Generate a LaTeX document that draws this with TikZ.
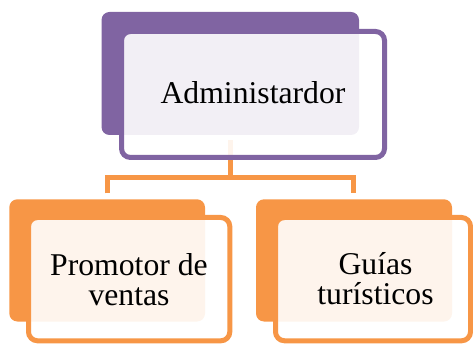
\documentclass[tikz,border=0pt]{standalone}
\usepackage{fontspec}
\setmainfont{Liberation Serif}
\definecolor{hpurple}{HTML}{8064A2}
\definecolor{horange}{HTML}{F79646}
\tikzset{
  backbox/.style={rounded corners=8pt},
  frontfill/.style={fill=white, fill opacity=0.9, rounded corners=9pt},
  frontline/.style={line width=5pt, rounded corners=9pt},
  conn/.style={draw=horange, line width=5.2pt},
  lbl/.style={inner sep=0pt, align=center, font=\fontsize{31.7}{30}\selectfont, text=black}
}
\begin{document}
\begin{tikzpicture}[x=1pt,y=-1pt]
\useasboundingbox (0,0) rectangle (473,344);
% coordinates for connectors
\coordinate (ctop) at (230.5,140);
\coordinate (cmid) at (230.5,177.5);
\coordinate (cl) at (107.5,193.3);
\coordinate (cr) at (353.5,193.3);
\draw[conn] (ctop) -- (cmid);
\draw[conn] (cl) |- (cmid) -| (cr);
% back boxes
\fill[hpurple, backbox] (101.5,12) rectangle (359,135);
\fill[horange, backbox] (9.3,199.3) rectangle (205,321.5);
\fill[horange, backbox] (256,199.3) rectangle (452,321.5);
% front boxes
\fill[frontfill] (121.5,31.5) rectangle (384.5,157.5);
\fill[frontfill] (28.5,217.5) rectangle (229.8,340.8);
\fill[frontfill] (275.5,217.5) rectangle (470.5,340.8);
\draw[frontline, draw=hpurple] (121.5,31.5) rectangle (384.5,157.5);
\draw[frontline, draw=horange] (28.5,217.5) rectangle (229.8,340.8);
\draw[frontline, draw=horange] (275.5,217.5) rectangle (470.5,340.8);
% labels
\node[lbl] (admin) at (253,92.5) {Administardor};
\node[lbl] (promo) at (129,279.4) {Promotor de\\ventas};
\node[lbl] (guias) at (375.5,278.4) {Guías\\turísticos};
\end{tikzpicture}
\end{document}
